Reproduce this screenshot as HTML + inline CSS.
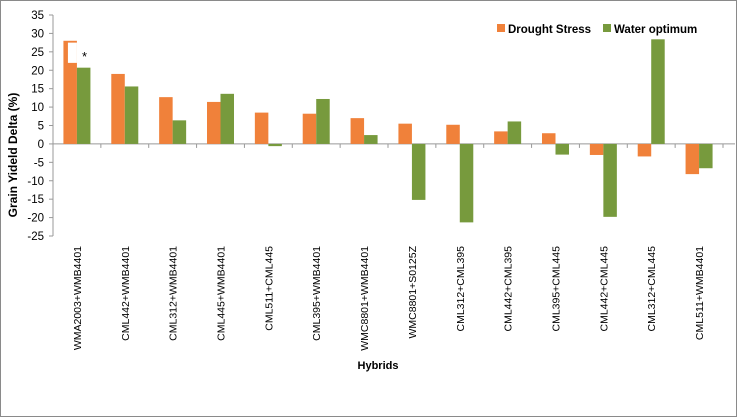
<!DOCTYPE html>
<html><head><meta charset="utf-8"><style>
body{margin:0;background:#fff;}
svg{display:block;font-family:"Liberation Sans",Arial,sans-serif;}
</style></head><body>
<svg id="chart" width="737" height="417" xmlns="http://www.w3.org/2000/svg">
<rect x="0.5" y="0.5" width="736" height="416" fill="#fff" stroke="#8a8a8a"/>
<g id="axes"></g>
<g id="bars"></g>
<g id="labels"></g>
<text x="82" y="61" font-size="13">*</text>
<text transform="translate(17,155) rotate(-90)" text-anchor="middle" font-size="12" font-weight="bold">Grain Yideld Delta (%)</text>
<text x="378" y="369" text-anchor="middle" font-size="11" font-weight="bold">Hybrids</text>
<g>
<rect x="497" y="24" width="8" height="8" fill="#f0813a"/>
<text x="508" y="33" font-size="11.5" font-weight="bold">Drought Stress</text>
<rect x="603" y="24" width="8" height="8" fill="#779a3d"/>
<text x="614" y="33" font-size="11.5" font-weight="bold">Water optimum</text>
</g>
</svg>
<script>
const categories=["WMA2003+WMB4401","CML442+WMB4401","CML312+WMB4401","CML445+WMB4401","CML511+CML445","CML395+WMB4401","WMC8801+WMB4401","WMC8801+S0125Z","CML312+CML395","CML442+CML395","CML395+CML445","CML442+CML445","CML312+CML445","CML511+WMB4401"];
const drought=[28,19,12.7,11.4,8.5,8.2,7,5.5,5.2,3.4,2.9,-3,-3.4,-8.2];
const water=[20.7,15.6,6.4,13.6,-0.6,12.2,2.4,-15.2,-21.3,6.1,-2.9,-19.8,28.4,-6.6];
const yTicks=[35,30,25,20,15,10,5,0,-5,-10,-15,-20,-25];
const NS="http://www.w3.org/2000/svg";
const x0=53,x1=723,yTop=15,yBot=236,vMax=35,vMin=-25;
const bw=(x1-x0)/categories.length;
function y(v){return yTop+(vMax-v)/(vMax-vMin)*(yBot-yTop);}
function xc(i){return x0+bw*(i+0.5);}
function mk(tag,attrs,parent){const e=document.createElementNS(NS,tag);for(const k in attrs)e.setAttribute(k,attrs[k]);parent.appendChild(e);return e;}
const axes=document.getElementById('axes'),bars=document.getElementById('bars'),labels=document.getElementById('labels');
let ax=mk('line',{x1:x0,x2:x0,y1:yTop,y2:yBot,stroke:'#999'},axes);


yTicks.forEach(t=>{
 const tk=mk('line',{x1:x0-4,x2:x0,y1:y(t),y2:y(t),stroke:'#999'},axes);
 
 
 const tx=mk('text',{x:x0-9,y:y(t)+4,'text-anchor':'end','font-size':11.5},axes);
 tx.textContent=t;
 
 
});
let xa=mk('line',{x1:x0,x2:x1+12,y1:y(0),y2:y(0),stroke:'#999'},axes);


categories.forEach((c,i)=>{
 const tk=mk('line',{x1:x0+bw*(i+1),x2:x0+bw*(i+1),y1:y(0),y2:y(0)+4,stroke:'#999'},axes);
 
 
 const w=13.5;
 const d=drought[i],g=water[i];
 const r1=mk('rect',{x:xc(i)-w,y:Math.min(y(d),y(0)),width:w,height:Math.abs(y(d)-y(0)),fill:'#f0813a'},bars);
 
 
 const r2=mk('rect',{x:xc(i),y:Math.min(y(g),y(0)),width:w,height:Math.abs(y(g)-y(0)),fill:'#779a3d'},bars);
 
 
 const tx=mk('text',{transform:'translate('+(xc(i)+4)+',246) rotate(-90)','text-anchor':'end','font-size':10.5},labels);
 tx.textContent=c;
 
 
});
const n=mk('rect',{x:xc(0)-9,y:y(27.5),width:9,height:y(22)-y(27.5),fill:'#fff'},bars);


</script>
</body></html>
